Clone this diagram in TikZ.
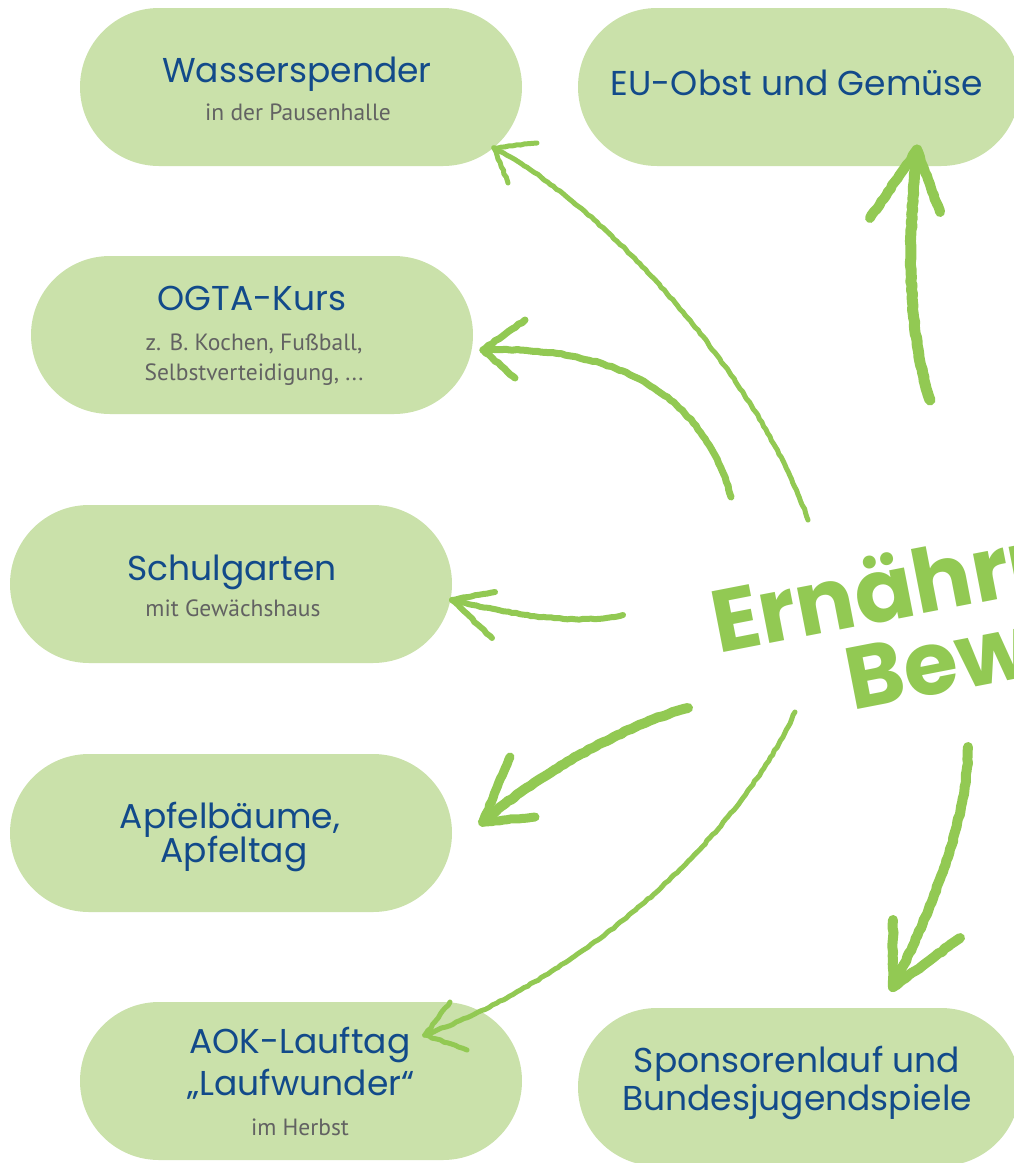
\documentclass[tikz,border=0pt]{standalone}
\usepackage{fontspec}
\setmainfont{PT Sans}
\newfontfamily\handfont{Poppins}
\usetikzlibrary{calc,decorations.pathmorphing}
\definecolor{boxfill}{HTML}{CAE1AA}
\definecolor{titleblue}{HTML}{124A8A}
\definecolor{subgray}{HTML}{626262}
\definecolor{chalk}{HTML}{92C953}
\begin{document}
\begin{tikzpicture}[x=1pt,y=-1pt,
 pill/.style={fill=boxfill, draw=none, rounded corners=79pt, minimum width=442pt, minimum height=158pt, inner sep=0pt},
 ttl/.style={font=\handfont\fontsize{34.5}{40}\selectfont, text=titleblue, anchor=base, inner sep=0pt},
 sub/.style={font=\fontsize{23.5}{28}\selectfont, text=subgray, anchor=base, inner sep=0pt},
 big/.style={font=\handfont\bfseries\fontsize{88}{96}\selectfont, text=chalk, anchor=base west, rotate=11, inner sep=0pt},
 shaft/.style={draw=chalk, line cap=round, line join=round, decorate, decoration={random steps, segment length=4pt, amplitude=0.6pt}},
 head/.style={shaft}
]
\useasboundingbox (0,0) rectangle (1014,1163);
\clip (0,0) rectangle (1014,1163);

% boxes
\node[pill] (box1) at (301,87) {};
\node[pill] (box2) at (799,87) {};
\node[pill] (box3) at (252,335) {};
\node[pill] (box4) at (231,584) {};
\node[pill] (box5) at (231,833) {};
\node[pill] (box6) at (301,1081) {};
\node[pill] (box7) at (799,1087) {};

% texts
\node[ttl] (wT) at (297,82) {Wasserspender};
\node[sub] (wS) at (298,120) {in der Pausenhalle};
\node[ttl] (eT) at (797,95) {EU-Obst und Gemüse};
\node[ttl] (oT) at (252,310) {OGTA-Kurs};
\node[sub] (oS1) at (254,350) {z. B. Kochen, Fußball,};
\node[sub] (oS2) at (254,380) {Selbstverteidigung, ...};
\node[ttl] (sT) at (232,580) {Schulgarten};
\node[sub] (sS) at (233,616) {mit Gewächshaus};
\node[ttl] (aT1) at (230,828) {Apfelbäume,};
\node[ttl] (aT2) at (234,862) {Apfeltag};
\node[ttl] (kT1) at (300,1053) {AOK-Lauftag};
\node[ttl] (kT2) at (301,1095) {„Laufwunder“};
\node[sub] (kS) at (300,1135) {im Herbst};
\node[ttl] (pT1) at (797,1072) {Sponsorenlauf und};
\node[ttl] (pT2) at (797,1110) {Bundesjugendspiele};

% centre text
\node[big] (ern) at (718,654) {Ernährung und};
\node[big] (bew) at (852,711) {Bewegung};

% arrow coordinates
\coordinate (s1) at (808,520); \coordinate (t1) at (494,148);
\coordinate (a1) at (537,143); \coordinate (b1) at (508,183);
\coordinate (s2) at (731,497); \coordinate (t2) at (483,350);
\coordinate (a2) at (525,320); \coordinate (b2) at (515,378);
\coordinate (s3) at (930,400); \coordinate (t3) at (917,150);
\coordinate (a3) at (870,218); \coordinate (b3) at (940,212);
\coordinate (s4) at (623,615); \coordinate (t4) at (452,600);
\coordinate (a4) at (495,592); \coordinate (b4) at (492,638);
\coordinate (s5) at (688,708); \coordinate (t5) at (483,822);
\coordinate (a5) at (510,757); \coordinate (b5) at (535,817);
\coordinate (s6) at (795,712); \coordinate (t6) at (425,1035);
\coordinate (a6) at (450,1002); \coordinate (b6) at (467,1050);
\coordinate (s7) at (968,747); \coordinate (t7) at (893,987);
\coordinate (a7) at (893,920); \coordinate (b7) at (960,938);

% arrows
\draw[shaft, line width=5pt] (s1) .. controls +(-48,-140) and +(115,60) .. (t1);
\draw[head, line width=5pt] (a1) -- (t1) -- (b1);
\draw[shaft, line width=7pt] (s2) .. controls +(-25,-90) and +(150,-5) .. (t2);
\draw[head, line width=7pt] (a2) -- (t2) -- (b2);
\draw[shaft, line width=11pt] (s3) .. controls +(-25,-80) and +(-8,80) .. (t3);
\draw[head, line width=10pt] (a3) -- (t3) -- (b3);
\draw[shaft, line width=6pt] (s4) .. controls +(-50,10) and +(60,15) .. (t4);
\draw[head, line width=6pt] (a4) -- (t4) -- (b4);
\draw[shaft, line width=10pt] (s5) .. controls +(-60,15) and +(50,-45) .. (t5);
\draw[head, line width=9pt] (a5) -- (t5) -- (b5);
\draw[shaft, line width=5pt] (s6) .. controls +(-60,130) and +(160,-60) .. (t6);
\draw[head, line width=5pt] (a6) -- (t6) -- (b6);
\draw[shaft, line width=10pt] (s7) .. controls +(0,80) and +(30,-60) .. (t7);
\draw[head, line width=10pt] (a7) -- (t7) -- (b7);
\end{tikzpicture}
\end{document}
